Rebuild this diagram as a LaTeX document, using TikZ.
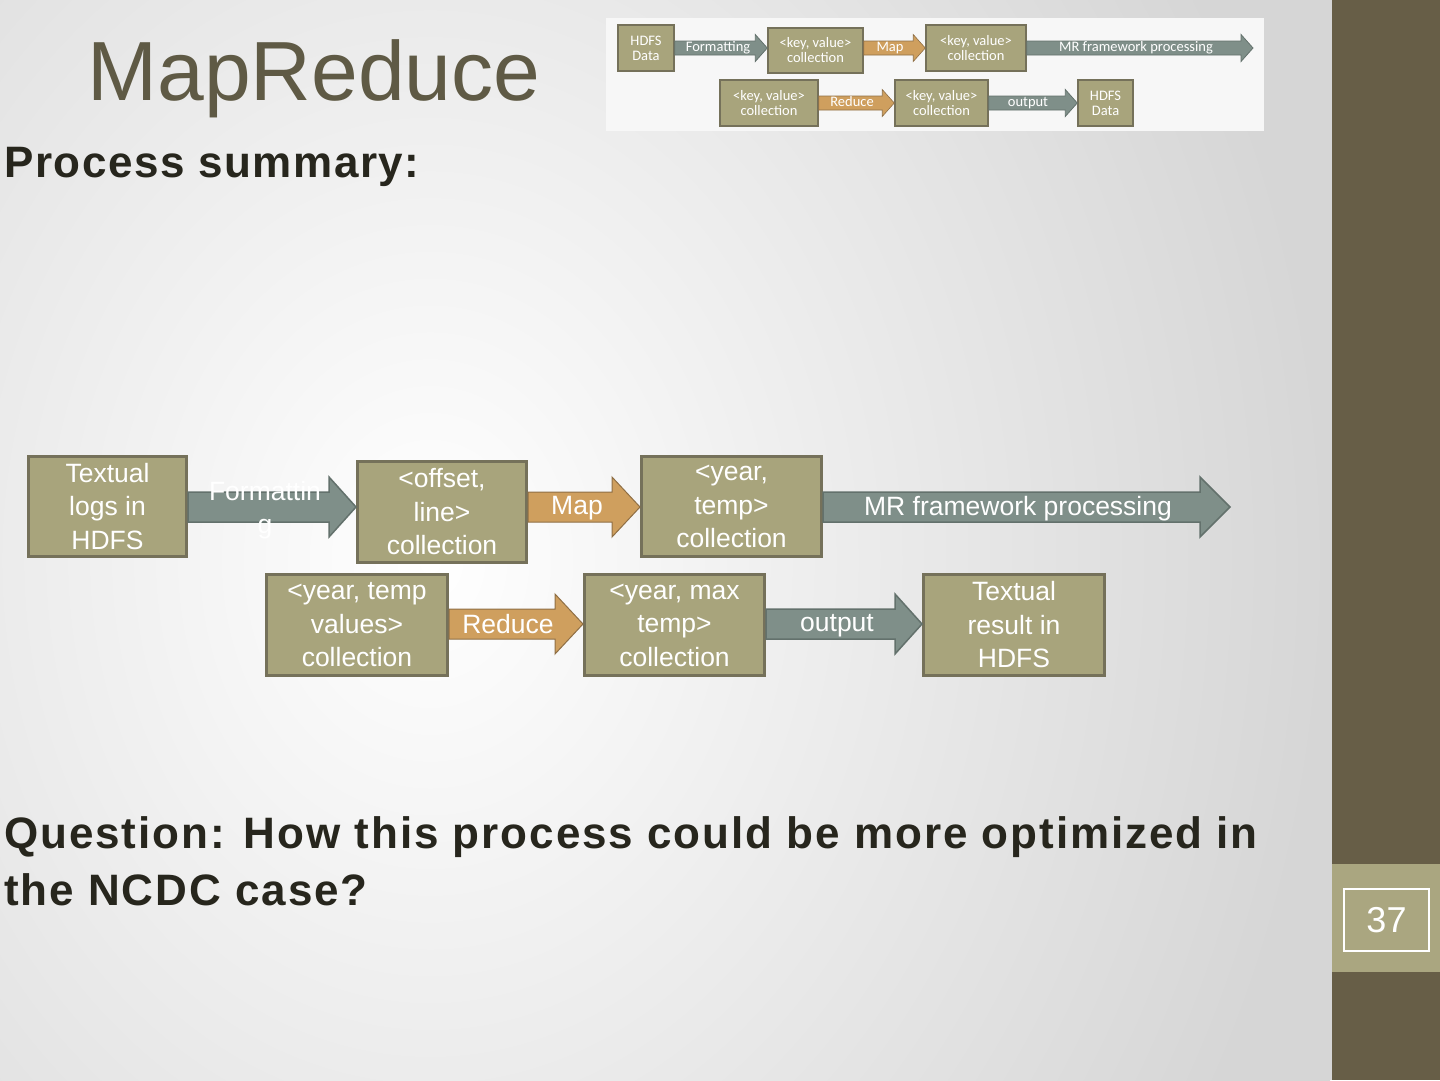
\documentclass[tikz,border=0pt]{standalone}
\usepackage{fontspec}
\setmainfont{Liberation Sans}
\newfontfamily\thumbfont{Carlito}
\newfontfamily\headfont[LetterSpace=3.5]{Liberation Sans}
\newfontfamily\questfont[LetterSpace=4.4]{Liberation Sans}
\usetikzlibrary{calc}
\definecolor{bgedge}{HTML}{D6D6D6}
\definecolor{sidedark}{HTML}{675E47}
\definecolor{sideband}{HTML}{AAA680}
\definecolor{boxfill}{HTML}{A8A47C}
\definecolor{boxline}{HTML}{75715A}
\definecolor{arrgray}{HTML}{7F8F89}
\definecolor{arrgrayline}{HTML}{63716C}
\definecolor{arrorange}{HTML}{CF9F5E}
\definecolor{arrorangeline}{HTML}{8F6F45}
\definecolor{titlecol}{HTML}{5F5A45}
\definecolor{textdark}{HTML}{27261D}
\tikzset{
  flowbox/.style={draw=boxline, fill=boxfill, line width=3pt, text=white, align=center,
    inner sep=0pt, font=\fontsize{26.5}{33.5}\selectfont},
  thumbbox/.style={draw=boxline, fill=boxfill, line width=1.5pt, text=white, align=center,
    inner sep=0pt, font=\thumbfont\fontsize{14.5}{15}\selectfont},
  grayarrow/.style={fill=arrgray, draw=arrgrayline, line width=1.5pt},
  orangearrow/.style={fill=arrorange, draw=arrorangeline, line width=1pt},
  arrlabel/.style={text=white, inner sep=0pt, align=center, font=\fontsize{26.5}{33}\selectfont},
  thumblabel/.style={text=white, inner sep=0pt, font=\thumbfont\fontsize{14.5}{15}\selectfont},
}
% style, from node, to point, row reference, shaft half, head half, head length
\newcommand{\flowarrow}[7]{%
  \draw[#1] let \p1=(#2.east), \p2=(#3), \p3=(#4) in
   (\x1,\y3+#5) -- (\x2-#7,\y3+#5) -- (\x2-#7,\y3+#6) -- (\x2,\y3)
   -- (\x2-#7,\y3-#6) -- (\x2-#7,\y3-#5) -- (\x1,\y3-#5) -- cycle;}
\begin{document}
\begin{tikzpicture}[x=1pt,y=-1pt]
\useasboundingbox (0,0) rectangle (1440,1080);
% background
\fill[bgedge] (0,0) rectangle (1332,1080);
\begin{scope}
  \clip (0,0) rectangle (1332,1080);
  \shade[inner color=white, outer color=bgedge] (-470,-540) rectangle (1330,1660);
\end{scope}
% sidebar
\fill[sidedark] (1332,0) rectangle (1440,1080);
\fill[sideband] (1332,864) rectangle (1440,972);
\node[draw=white, line width=2pt, minimum width=85pt, minimum height=62pt, text=white,
  font=\fontsize{36}{40}\selectfont] (pnum) at (1386.5,920) {37};
% titles
\node[anchor=base, text=titlecol, inner sep=0pt, font=\fontsize{84}{100}\selectfont] (title) at (314,100) {MapReduce};
\node[anchor=base west, text=textdark, inner sep=0pt, font=\headfont\bfseries\fontsize{44}{57}\selectfont] (summary) at (4,177) {Process summary:};
\node[anchor=north west, text=textdark, inner sep=0pt, align=left, font=\questfont\bfseries\fontsize{44}{57}\selectfont] (question) at (4,816)
  {Question: How this process could be more optimized in\\the NCDC case?};
% thumbnail
\fill[white!97!black] (606,18) rectangle (1264,131);
\node[thumbbox, minimum width=56pt, minimum height=46pt] (t1) at (646,48) {HDFS\\Data};
\node[thumbbox, minimum width=95pt, minimum height=45pt] (t2) at (815.5,50.5) {<key, value>\\collection};
\node[thumbbox, minimum width=100pt, minimum height=46pt] (t3) at (976,48) {<key, value>\\collection};
\node[thumbbox, minimum width=98pt, minimum height=46pt] (t4) at (769,103) {<key, value>\\collection};
\node[thumbbox, minimum width=93pt, minimum height=46pt] (t5) at (941.5,103) {<key, value>\\collection};
\node[thumbbox, minimum width=55pt, minimum height=46pt] (t6) at (1105.5,103) {HDFS\\Data};
\coordinate (tend) at (1253,48);
\flowarrow{grayarrow, line width=0.8pt}{t1}{t2.west}{t1}{7pt}{13.5pt}{12pt}
\flowarrow{orangearrow, line width=0.6pt}{t2}{t3.west}{t1}{7pt}{13.5pt}{12pt}
\flowarrow{grayarrow, line width=0.8pt}{t3}{tend}{t1}{7pt}{13.5pt}{12pt}
\flowarrow{orangearrow, line width=0.6pt}{t4}{t5.west}{t4}{7pt}{13.5pt}{12pt}
\flowarrow{grayarrow, line width=0.8pt}{t5}{t6.west}{t4}{7pt}{13.5pt}{12pt}
\node[thumblabel] (tl1) at (718,48) {Formatting};
\node[thumblabel] (tl2) at (890,48) {Map};
\node[thumblabel] (tl3) at (1136,48) {MR framework processing};
\node[thumblabel] (tl4) at (852,102) {Reduce};
\node[thumblabel] (tl5) at (1028,103) {output};
% main diagram
\node[flowbox, minimum width=158pt, minimum height=100pt] (b1) at (107.5,506.5) {Textual\\logs in\\HDFS};
\node[flowbox, minimum width=169pt, minimum height=101pt] (b2) at (442,512) {<offset,\\line>\\collection};
\node[flowbox, minimum width=180pt, minimum height=100pt] (b3) at (731.5,506.5) {<year,\\temp>\\collection};
\node[flowbox, minimum width=181pt, minimum height=101pt] (b4) at (357,625) {<year, temp\\values>\\collection};
\node[flowbox, minimum width=180pt, minimum height=101pt] (b5) at (674.5,625) {<year, max\\temp>\\collection};
\node[flowbox, minimum width=181pt, minimum height=101pt] (b6) at (1014,625) {Textual\\result in\\HDFS};
\coordinate (mrend) at (1230,507);
\coordinate (row1) at (0,507);
\coordinate (row2) at (0,624);
\flowarrow{grayarrow}{b1}{b2.west}{row1}{15pt}{30pt}{27pt}
\flowarrow{orangearrow}{b2}{b3.west}{row1}{15pt}{30pt}{28pt}
\flowarrow{grayarrow}{b3}{mrend}{row1}{15pt}{30pt}{30pt}
\flowarrow{orangearrow}{b4}{b5.west}{row2}{15pt}{30pt}{28pt}
\flowarrow{grayarrow}{b5}{b6.west}{row2}{15pt}{30pt}{27pt}
\node[arrlabel] (l1) at (265,510) {Formattin\\g};
\node[arrlabel] (l2) at (577,508) {Map};
\node[arrlabel] (l3) at (1018,509) {MR framework processing};
\node[arrlabel] (l4) at (508,624) {Reduce};
\node[arrlabel] (l5) at (837,626) {output};
\end{tikzpicture}
\end{document}
